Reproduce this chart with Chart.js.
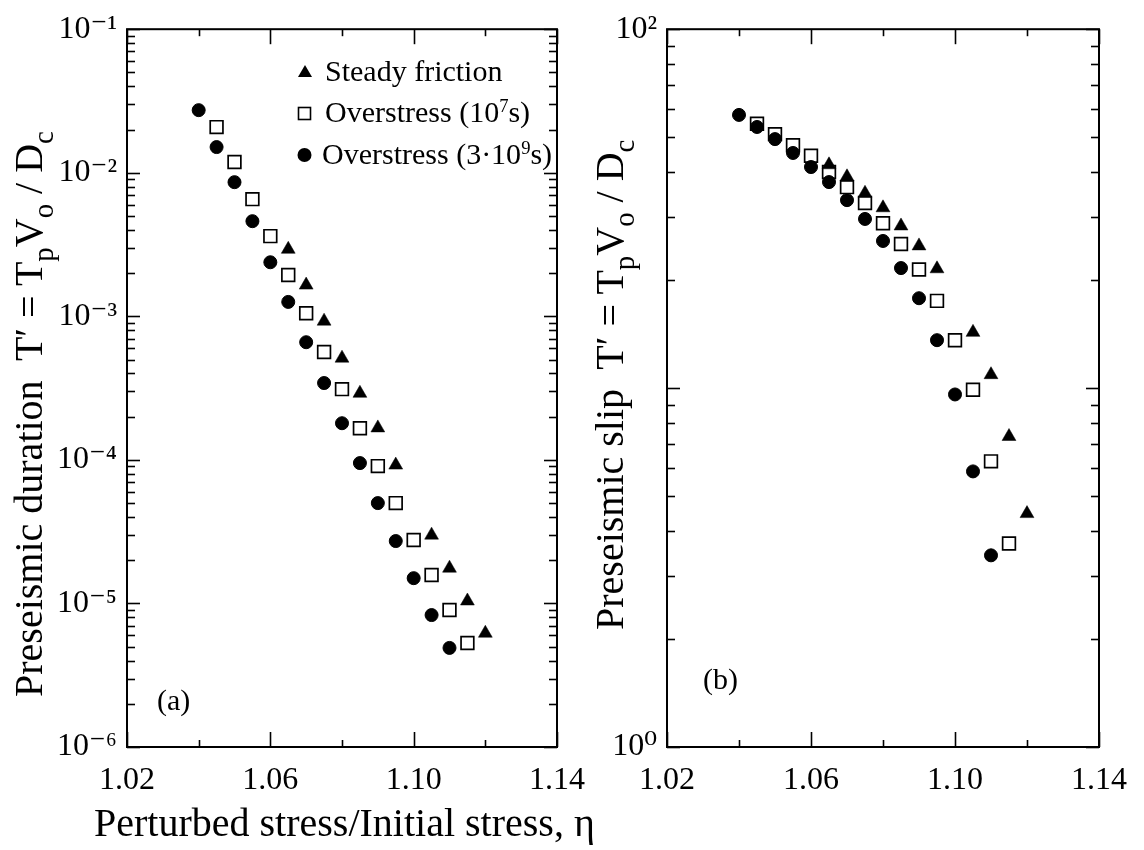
<!DOCTYPE html>
<html>
<head>
<meta charset="utf-8">
<script src="https://cdn.jsdelivr.net/npm/chart.js@4.4.1/dist/chart.umd.min.js"></script>
<style>
html,body{margin:0;padding:0;background:#fff;}
body{width:1144px;height:850px;position:relative;overflow:hidden;font-family:'Liberation Serif','DejaVu Serif',serif;color:#000;}
canvas{position:absolute;top:0;}
#cA{left:0;}
#cB{left:560px;}
.t{position:absolute;white-space:nowrap;line-height:1;}
.ytitle{font-size:40px;transform-origin:0 0;transform:rotate(-90deg);}
.xtitle{font-size:40px;}
sub{font-size:0.72em;vertical-align:-0.38em;line-height:0;}
sup{font-size:0.62em;vertical-align:0.55em;line-height:0;}
.leg{font-size:30px;}
.mk{position:absolute;}
.panel{font-size:30px;}
</style>
</head>
<body>
<canvas id="cA" width="600" height="850"></canvas>
<canvas id="cB" width="584" height="850"></canvas>

<div class="t ytitle" style="left:9px;top:697px;">Preseismic duration&nbsp; T′ = T<sub>p</sub>V<sub>o</sub> / D<sub>c</sub></div>
<div class="t ytitle" style="left:590px;top:630px;">Preseismic slip&nbsp; T′ = T<sub>p</sub>V<sub>o</sub> / D<sub>c</sub></div>
<div class="t xtitle" style="left:94px;top:803px;">Perturbed stress/Initial stress, η</div>

<svg class="mk" style="left:296px;top:63px" width="18" height="18"><polygon points="9,2 16,14 2,14" fill="#000"/></svg>
<div class="t leg" style="left:325px;top:56px;">Steady friction</div>
<svg class="mk" style="left:296px;top:105px" width="18" height="18"><rect x="2.5" y="2.5" width="12" height="12" fill="#fff" stroke="#000" stroke-width="1.6"/></svg>
<div class="t leg" style="left:325px;top:97px;">Overstress (10<sup>7</sup>s)</div>
<svg class="mk" style="left:296px;top:146px" width="18" height="18"><circle cx="8.5" cy="9" r="7" fill="#000"/></svg>
<div class="t leg" style="left:322px;top:139px;">Overstress (3·10<sup>9</sup>s)</div>

<div class="t panel" style="left:157px;top:685px;">(a)</div>
<div class="t panel" style="left:703px;top:664px;">(b)</div>

<script>
// ---------------- data ----------------
const etaCircle   = [1.040, 1.045, 1.050, 1.055, 1.060, 1.065, 1.070, 1.075, 1.080, 1.085, 1.090, 1.095, 1.100, 1.105, 1.110];
const etaSquare   = [1.045, 1.050, 1.055, 1.060, 1.065, 1.070, 1.075, 1.080, 1.085, 1.090, 1.095, 1.100, 1.105, 1.110, 1.115];
const etaTriangle = [1.065, 1.070, 1.075, 1.080, 1.085, 1.090, 1.095, 1.105, 1.110, 1.115, 1.120];

// (a) preseismic duration
const durCircle   = [0.0273, 0.0151, 0.0086, 0.0046, 0.00238, 0.00126, 0.00066, 0.000343, 0.000180, 9.5e-5, 5.0e-5, 2.72e-5, 1.50e-5, 8.3e-6, 4.9e-6];
const durSquare   = [0.0208, 0.0119, 0.00655, 0.00362, 0.00194, 0.00105, 0.000564, 0.000311, 0.000166, 9.05e-5, 5.0e-5, 2.77e-5, 1.58e-5, 9.0e-6, 5.3e-6];
const durTriangle = [0.00293, 0.00165, 0.000925, 0.000511, 0.000291, 0.000167, 9.2e-5, 2.99e-5, 1.76e-5, 1.04e-5, 6.2e-6];

// (b) preseismic slip
const slipCircle   = [57.7, 53.4, 49.4, 45.2, 41.3, 37.5, 33.4, 29.6, 25.7, 21.6, 17.8, 13.6, 9.6, 5.86, 3.42];
const slipSquare   = [54.5, 51.0, 47.5, 44.4, 40.0, 36.3, 32.8, 28.8, 25.2, 21.4, 17.5, 13.6, 9.9, 6.25, 3.69];
const slipTriangle = [41.9, 38.8, 34.9, 31.8, 28.3, 24.9, 21.5, 14.3, 10.9, 7.33, 4.47];

// axes / tick labels
const xTickValues = [1.02, 1.04, 1.06, 1.08, 1.10, 1.12, 1.14];
const xTickLabels = ['1.02', '', '1.06', '', '1.10', '', '1.14'];
const yDecadesA = [1e-6, 1e-5, 1e-4, 1e-3, 1e-2, 1e-1];
const yLabelsA  = ['10⁻⁶', '10⁻⁵', '10⁻⁴', '10⁻³', '10⁻²', '10⁻¹'];
const yDecadesB = [1, 10, 100];
const yLabelsB  = ['10⁰', '', '10²'];

// ---------------- helpers ----------------
const FONT = "'Liberation Serif','DejaVu Serif',serif";
function pts(xs, ys) { return xs.map((x, i) => ({x: x, y: ys[i]})); }
function logTicks(decades) {
  const out = [];
  for (let i = 0; i < decades.length; i++) {
    out.push(decades[i]);
    if (i < decades.length - 1) for (let k = 2; k <= 9; k++) out.push(decades[i] * k);
  }
  return out;
}
function isDecade(v) { const l = Math.log10(v); return Math.abs(l - Math.round(l)) < 1e-6; }
function findLabel(vals, labels, v) {
  const i = vals.findIndex(t => Math.abs(t - v) / Math.abs(t) < 1e-6);
  return i >= 0 ? labels[i] : '';
}

const frameTicks = {
  id: 'frameTicks',
  afterDraw(chart) {
    const ctx = chart.ctx, a = chart.chartArea, sx = chart.scales.x, sy = chart.scales.y;
    ctx.save();
    ctx.strokeStyle = '#000';
    ctx.lineCap = 'butt';
    ctx.lineWidth = 1.6;
    const line = (x1, y1, x2, y2) => { ctx.beginPath(); ctx.moveTo(x1, y1); ctx.lineTo(x2, y2); ctx.stroke(); };
    sx.ticks.forEach(t => {
      const px = Math.round(sx.getPixelForValue(t.value)) + 0.5;
      const major = findLabel(xTickValues, xTickLabels, t.value) !== '';
      const L = major ? 15 : 7;
      line(px, a.bottom, px, a.bottom - L);
      line(px, a.top, px, a.top + L);
    });
    sy.ticks.forEach(t => {
      const py = Math.round(sy.getPixelForValue(t.value)) + 0.5;
      const L = isDecade(t.value) ? 13 : 8;
      line(a.left, py, a.left + L, py);
      line(a.right, py, a.right - L, py);
    });
    ctx.lineWidth = 2;
    ctx.strokeRect(a.left, a.top, a.right - a.left, a.bottom - a.top);
    ctx.restore();
  }
};

function makeChart(id, yMin, yMax, yDecades, yLabels, yWidth, padRight, circ, sq, tri) {
  const yTickList = logTicks(yDecades);
  return new Chart(document.getElementById(id), {
    type: 'scatter',
    data: {
      datasets: [
        {label: 'Overstress (3·10⁹s)', data: pts(etaCircle, circ), pointStyle: 'circle', pointRadius: 6.5,
         backgroundColor: '#000', borderColor: '#000', borderWidth: 1, showLine: false},
        {label: 'Steady friction', data: pts(etaTriangle, tri), pointStyle: 'triangle', pointRadius: 8,
         backgroundColor: '#000', borderColor: '#000', borderWidth: 0.5, showLine: false},
        {label: 'Overstress (10⁷s)', data: pts(etaSquare, sq), pointStyle: 'rect', pointRadius: 9,
         backgroundColor: '#fff', borderColor: '#000', borderWidth: 1.7, showLine: false}
      ]
    },
    options: {
      responsive: false,
      animation: false,
      events: [],
      layout: {padding: {left: 0, right: padRight, top: 29, bottom: 43}, autoPadding: false},
      plugins: {legend: {display: false}, tooltip: {enabled: false}},
      scales: {
        x: {
          type: 'linear', position: 'bottom', min: 1.02, max: 1.14,
          afterBuildTicks: s => { s.ticks = xTickValues.map(v => ({value: v})); },
          afterFit: s => { s.height = 60; },
          grid: {display: false, drawTicks: false},
          border: {display: false},
          ticks: {autoSkip: false, maxRotation: 0, minRotation: 0, padding: 14, color: '#000',
                  font: {family: FONT, size: 32},
                  callback: v => findLabel(xTickValues, xTickLabels, v)}
        },
        y: {
          type: 'logarithmic', position: 'left', min: yMin, max: yMax,
          afterBuildTicks: s => { s.ticks = yTickList.map(v => ({value: v})); },
          afterFit: s => { s.width = yWidth; },
          grid: {display: false, drawTicks: false},
          border: {display: false},
          ticks: {autoSkip: false, padding: 10, color: '#000',
                  font: {family: FONT, size: 32},
                  callback: v => findLabel(yDecades, yLabels, v)}
        }
      }
    },
    plugins: [frameTicks]
  });
}

makeChart('cA', 1e-6, 1e-1, yDecadesA, yLabelsA, 127, 43, durCircle, durSquare, durTriangle);
makeChart('cB', 1, 100, yDecadesB, yLabelsB, 107, 45, slipCircle, slipSquare, slipTriangle);
</script>
</body>
</html>
